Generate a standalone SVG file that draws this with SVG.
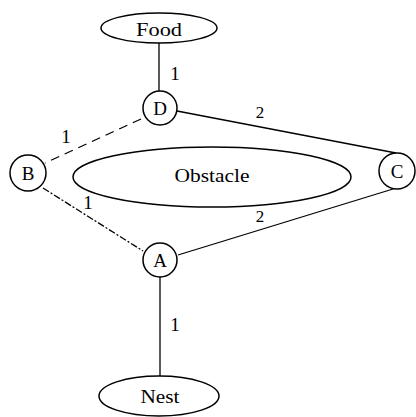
<svg xmlns="http://www.w3.org/2000/svg" width="416" height="417" viewBox="0 0 416 417">
<style>
.n{fill:#fff;stroke:#000;stroke-width:1.5}
.t{font-family:"Liberation Serif","Times New Roman",serif;fill:#000;text-anchor:middle}
.e{stroke:#000;stroke-width:1.3;fill:none}
</style>
<rect width="416" height="417" fill="#fff"/>
<g id="connectors">
<line class="e" x1="159" y1="42" x2="159" y2="91"/>
<line class="e" x1="141" y1="119" x2="45" y2="163" stroke-dasharray="9,6"/>
<line class="e" x1="177" y1="111" x2="396" y2="153"/>
<line class="e" x1="43" y1="188" x2="143" y2="251" stroke-dasharray="7,2,2,2"/>
<line class="e" x1="178" y1="255" x2="393" y2="189"/>
<line class="e" x1="160" y1="277" x2="160" y2="376"/>
<text class="t" x="175" y="80" font-size="19">1</text>
<text class="t" x="66" y="143" font-size="19">1</text>
<text class="t" x="260" y="118" font-size="17">2</text>
<text class="t" x="88" y="209" font-size="19">1</text>
<text class="t" x="260" y="222" font-size="17">2</text>
<text class="t" x="175" y="331" font-size="19">1</text>
</g>
<g id="food">
<ellipse class="n" cx="159" cy="28" rx="58" ry="15"/>
<text class="t" x="159" y="36" font-size="18" textLength="46" lengthAdjust="spacingAndGlyphs">Food</text>
</g>
<g id="obstacle">
<ellipse class="n" cx="212" cy="177" rx="139" ry="30"/>
<text class="t" x="212" y="182" font-size="18" textLength="75" lengthAdjust="spacingAndGlyphs">Obstacle</text>
</g>
<g id="nest">
<ellipse class="n" cx="159" cy="396" rx="60" ry="20"/>
<text class="t" x="160" y="403" font-size="18" textLength="39" lengthAdjust="spacingAndGlyphs">Nest</text>
</g>
<g id="D">
<circle class="n" cx="160" cy="108" r="17"/>
<text class="t" x="160" y="115" font-size="19">D</text>
</g>
<g id="B">
<circle class="n" cx="28" cy="173" r="18"/>
<text class="t" x="28" y="180" font-size="19">B</text>
</g>
<g id="C">
<circle class="n" cx="397" cy="171" r="18"/>
<text class="t" x="397" y="178" font-size="19">C</text>
</g>
<g id="A">
<circle class="n" cx="160" cy="260" r="17"/>
<text class="t" x="160" y="267" font-size="19">A</text>
</g>
</svg>
